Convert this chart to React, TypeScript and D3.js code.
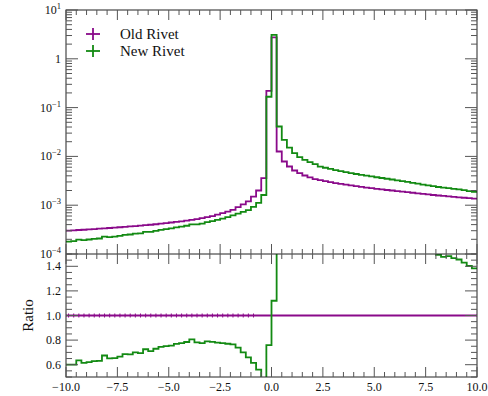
import { useRef, useEffect } from 'react';
import * as d3 from 'd3';

// 80 bins of width 0.25 between -10 and 10
const binWidth = 0.25;
const binLow = d3.range(-10, 10, binWidth);

const oldRivet = [
    3.00e-4, 3.05e-4, 3.10e-4, 3.14e-4, 3.19e-4, 3.24e-4, 3.30e-4, 3.35e-4, 3.41e-4, 3.47e-4,
    3.53e-4, 3.60e-4, 3.67e-4, 3.74e-4, 3.82e-4, 3.90e-4, 3.98e-4, 4.07e-4, 4.20e-4, 4.30e-4,
    4.42e-4, 4.55e-4, 4.68e-4, 4.83e-4, 5.00e-4, 5.20e-4, 5.42e-4, 5.70e-4, 6.00e-4, 6.40e-4,
    6.85e-4, 7.40e-4, 8.05e-4, 9.10e-4, 1.04e-3, 1.20e-3, 1.50e-3, 2.00e-3, 3.60e-3, 0.22,
    2.75, 1.26e-2, 7.87e-3, 6.21e-3, 5.14e-3, 4.55e-3, 4.06e-3, 3.70e-3, 3.43e-3, 3.25e-3,
    3.10e-3, 2.96e-3, 2.84e-3, 2.73e-3, 2.63e-3, 2.54e-3, 2.45e-3, 2.37e-3, 2.30e-3, 2.23e-3,
    2.17e-3, 2.11e-3, 2.05e-3, 2.00e-3, 1.95e-3, 1.90e-3, 1.85e-3, 1.80e-3, 1.75e-3, 1.70e-3,
    1.66e-3, 1.62e-3, 1.58e-3, 1.55e-3, 1.51e-3, 1.48e-3, 1.45e-3, 1.42e-3, 1.39e-3, 1.36e-3,
];

const newRivet = [
    1.80e-4, 1.83e-4, 1.97e-4, 1.93e-4, 1.98e-4, 2.04e-4, 2.08e-4, 2.26e-4, 2.22e-4, 2.27e-4,
    2.35e-4, 2.47e-4, 2.51e-4, 2.62e-4, 2.65e-4, 2.83e-4, 2.83e-4, 2.97e-4, 3.13e-4, 3.23e-4,
    3.34e-4, 3.50e-4, 3.63e-4, 3.79e-4, 4.03e-4, 4.06e-4, 4.20e-4, 4.50e-4, 4.71e-4, 4.99e-4,
    5.31e-4, 5.70e-4, 6.16e-4, 6.73e-4, 7.28e-4, 7.92e-4, 9.23e-4, 1.12e-3, 1.62e-3, 0.167,
    3.08, 4.10e-2, 2.19e-2, 1.52e-2, 1.17e-2, 9.7e-3, 8.5e-3, 7.6e-3, 6.95e-3, 6.20e-3,
    5.85e-3, 5.55e-3, 5.25e-3, 5.00e-3, 4.77e-3, 4.55e-3, 4.36e-3, 4.18e-3, 4.03e-3, 3.88e-3,
    3.74e-3, 3.61e-3, 3.48e-3, 3.36e-3, 3.24e-3, 3.12e-3, 3.00e-3, 2.88e-3, 2.77e-3, 2.65e-3,
    2.56e-3, 2.46e-3, 2.36e-3, 2.29e-3, 2.24e-3, 2.17e-3, 2.11e-3, 2.03e-3, 1.95e-3, 1.88e-3,
];

const seriesNames = ['Old Rivet', 'New Rivet'];
const seriesColors = ['#8a0a8a', '#138a13'];

const xTicks = [-10, -7.5, -5, -2.5, 0, 2.5, 5, 7.5, 10];
const logTicks = [1e-4, 1e-3, 1e-2, 1e-1, 1, 10];
const logTickLabels: [string, string][] = [['10', '−4'], ['10', '−3'], ['10', '−2'], ['10', '−1'], ['1', ''], ['10', '1']];
const ratioTicks = [0.6, 0.8, 1.0, 1.2, 1.4];

export default function App() {
    const ref = useRef<SVGSVGElement>(null);

    useEffect(() => {
        if (!ref.current) return;
        const svg = d3.select(ref.current);
        svg.selectAll('*').remove();

        const left = 66, right = 477, top = 10, mid = 254, bottom = 377;
        const font = '"Liberation Serif", "Times New Roman", serif';
        const tickColor = '#555';

        const x = d3.scaleLinear().domain([-10, 10]).range([left, right]);
        const y = d3.scaleLog().domain([1e-4, 10]).range([mid, top]);
        const yr = d3.scaleLinear().domain([0.5, 1.5]).range([bottom, mid]);

        const defs = svg.append('defs');
        defs.append('clipPath').attr('id', 'mainClip')
            .append('rect').attr('x', left).attr('y', top).attr('width', right - left).attr('height', mid - top);
        defs.append('clipPath').attr('id', 'ratioClip')
            .append('rect').attr('x', left).attr('y', mid).attr('width', right - left).attr('height', bottom - mid);

        const stepPts = (vals: number[]) => {
            const pts: [number, number][] = binLow.map((b, i) => [b, vals[i]]);
            pts.push([10, vals[vals.length - 1]]);
            return pts;
        };

        // main histograms
        const mainLine = d3.line<[number, number]>()
            .x(d => x(d[0])).y(d => y(d[1])).curve(d3.curveStepAfter);
        const mainG = svg.append('g').attr('clip-path', 'url(#mainClip)');
        [oldRivet, newRivet].forEach((vals, k) => {
            mainG.append('path')
                .attr('d', mainLine(stepPts(vals)))
                .attr('fill', 'none')
                .attr('stroke', seriesColors[k])
                .attr('stroke-width', 1.8);
        });

        // ratio panel
        const ratioLine = d3.line<[number, number]>()
            .x(d => x(d[0])).y(d => yr(d[1])).curve(d3.curveStepAfter);
        const ratioG = svg.append('g').attr('clip-path', 'url(#ratioClip)');
        const ones = oldRivet.map(() => 1);
        const ratio = newRivet.map((v, i) => v / oldRivet[i]);
        ratioG.append('path')
            .attr('d', ratioLine(stepPts(ones)))
            .attr('fill', 'none').attr('stroke', seriesColors[0]).attr('stroke-width', 1.8);
        // tiny error bars on the reference line
        binLow.forEach((b, i) => {
            if (b > -1) return;
            ratioG.append('line')
                .attr('x1', x(b + binWidth / 2)).attr('x2', x(b + binWidth / 2))
                .attr('y1', yr(1) - 2).attr('y2', yr(1) + 2)
                .attr('stroke', seriesColors[0]).attr('stroke-width', 1);
        });
        ratioG.append('path')
            .attr('d', ratioLine(stepPts(ratio)))
            .attr('fill', 'none').attr('stroke', seriesColors[1]).attr('stroke-width', 1.8);

        // frames
        svg.append('rect').attr('x', left).attr('y', top).attr('width', right - left).attr('height', bottom - top)
            .attr('fill', 'none').attr('stroke', '#222').attr('stroke-width', 1);
        svg.append('line').attr('x1', left).attr('x2', right).attr('y1', mid).attr('y2', mid)
            .attr('stroke', '#222').attr('stroke-width', 1);

        const ticks = svg.append('g').attr('stroke', tickColor).attr('stroke-width', 1);

        // x ticks (major 2.5, minor 0.5)
        const xMinor = d3.range(-10, 10.01, 0.5);
        xMinor.forEach(v => {
            const major = xTicks.some(t => Math.abs(t - v) < 1e-6);
            const len = major ? 10 : 5;
            const px = x(v);
            ticks.append('line').attr('x1', px).attr('x2', px).attr('y1', top).attr('y2', top + len);
            ticks.append('line').attr('x1', px).attr('x2', px).attr('y1', mid - len).attr('y2', mid + len);
            ticks.append('line').attr('x1', px).attr('x2', px).attr('y1', bottom).attr('y2', bottom - len);
        });

        // log y ticks
        for (let e = -4; e <= 1; e++) {
            for (let m = 1; m <= 9; m++) {
                const v = m * Math.pow(10, e);
                if (v > 10) break;
                const len = m === 1 ? 12 : 6;
                const py = y(v);
                ticks.append('line').attr('x1', left).attr('x2', left + len).attr('y1', py).attr('y2', py);
                ticks.append('line').attr('x1', right).attr('x2', right - len).attr('y1', py).attr('y2', py);
            }
        }

        // ratio y ticks
        d3.range(0.5, 1.5001, 0.05).forEach(v => {
            const major = ratioTicks.some(t => Math.abs(t - v) < 1e-6);
            const len = major ? 12 : 6;
            const py = yr(v);
            ticks.append('line').attr('x1', left).attr('x2', left + len).attr('y1', py).attr('y2', py);
            ticks.append('line').attr('x1', right).attr('x2', right - len).attr('y1', py).attr('y2', py);
        });

        // labels
        const labels = svg.append('g').attr('font-family', font).attr('fill', '#111');
        logTicks.forEach((v, i) => {
            const [base, sup] = logTickLabels[i];
            const t = labels.append('text')
                .attr('x', 61).attr('y', y(v) + 4)
                .attr('text-anchor', 'end').attr('font-size', 12);
            t.append('tspan').text(base);
            if (sup) t.append('tspan').attr('dy', -5).attr('font-size', 8.5).text(sup);
        });
        ratioTicks.forEach(v => {
            labels.append('text')
                .attr('x', 61).attr('y', yr(v) + 4)
                .attr('text-anchor', 'end').attr('font-size', 12)
                .text(d3.format('.1f')(v));
        });
        xTicks.forEach(v => {
            labels.append('text')
                .attr('x', x(v)).attr('y', 391)
                .attr('text-anchor', 'middle').attr('font-size', 12)
                .text(d3.format('.1f')(v));
        });
        labels.append('text')
            .attr('transform', `translate(33, ${(mid + bottom) / 2}) rotate(-90)`)
            .attr('text-anchor', 'middle').attr('font-size', 15)
            .text('Ratio');

        // legend
        seriesNames.forEach((name, k) => {
            const ly = 34 + k * 17;
            const lg = svg.append('g');
            lg.append('line').attr('x1', 86).attr('x2', 100).attr('y1', ly).attr('y2', ly)
                .attr('stroke', seriesColors[k]).attr('stroke-width', 1.8);
            lg.append('line').attr('x1', 93).attr('x2', 93).attr('y1', ly - 6).attr('y2', ly + 6)
                .attr('stroke', seriesColors[k]).attr('stroke-width', 1.8);
            lg.append('text').attr('x', 120).attr('y', ly + 5)
                .attr('font-family', font).attr('font-size', 15).attr('fill', '#111')
                .text(name);
        });
    }, []);

    return (
        <svg ref={ref} width={488} height={396}
            style={{ position: 'absolute', left: 0, top: 0, background: '#fff' }} />
    );
}
